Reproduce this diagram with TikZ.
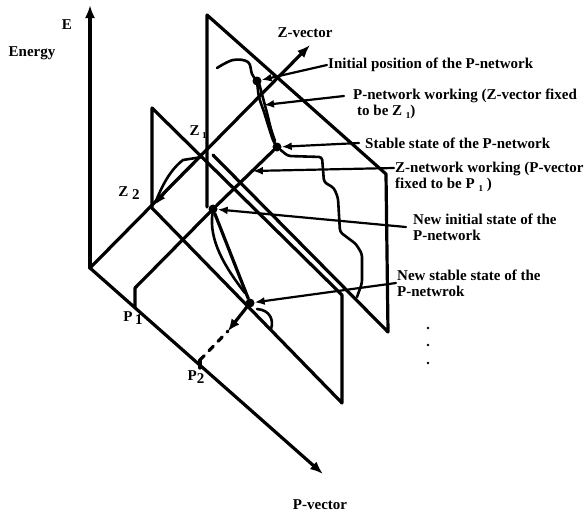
\documentclass[tikz,border=0pt]{standalone}
\usepackage{fontspec}
\setmainfont{Liberation Serif}
\usetikzlibrary{arrows.meta, calc, positioning}

\newcommand\lowidx[1]{\raisebox{-0.45ex}{#1}}

\tikzset{
  axis/.style={line width=3.2pt, -{Latex[length=13pt,width=10pt]}},
  edge/.style={line width=3.2pt},
  pointer/.style={line width=2.2pt, -{Latex[length=10pt,width=8pt]}},
  track/.style={line width=2.6pt},
  blob/.style={circle, fill, inner sep=0pt, minimum size=9pt},
  lbl/.style={font=\bfseries\fontsize{15}{16}\selectfont, inner sep=1pt, align=left},
}

\begin{document}
\begin{tikzpicture}[x=1pt, y=-1pt, line join=round, line cap=round]
  \useasboundingbox (0,0) rectangle (586,515);

  % axes
  \coordinate (O)    at (90,268);
  \coordinate (Etip) at (90,5);
  \coordinate (Ztip) at (310,45);
  \coordinate (Ptip) at (323,474);
  \draw [axis] (O) -- (Etip);
  \draw [axis] (O) -- (Ztip);
  \draw [axis] (O) -- (Ptip);

  % points on the axes
  \coordinate (Z1) at (202,157);
  \coordinate (Z2) at (152,208);
  \coordinate (P1) at (135,307);
  \coordinate (P2) at (200,368);

  % plane Z = Z2
  \coordinate (z2top) at (152,108);
  \coordinate (z2far) at (342,295);
  \coordinate (z2low) at (342,403);
  \draw [edge] (Z2) -- (z2top) -- (z2far) -- (z2low) -- cycle;

  % plane Z = Z1
  \coordinate (z1base) at (207,207);
  \coordinate (z1top)  at (207,15);
  \coordinate (z1far)  at (386,174);
  \coordinate (z1low)  at (388,332);
  \coordinate (z1near) at (213,155);
  \draw [edge] (z1base) -- (z1top) -- (z1far) -- (z1low) -- (z1near);

  % states
  \node [blob] (init)      at (257,81)  {};
  \node [blob] (stable)    at (277,147) {};
  \node [blob] (newinit)   at (213,209) {};
  \node [blob] (newstable) at (250,303) {};

  % line from P1 in the Z direction
  \coordinate (P1up) at (135,288);
  \draw [edge] (P1) -- (P1up) -- (newinit) -- (stable);

  % from the new initial state down to the new stable state
  \draw [edge] (newinit) -- (newstable);
  \draw [track] (newinit) .. controls (209,240) and (224,266) .. (245,293);
  \draw [track] (257,309) .. controls (270,310) and (274,320) .. (271,329);

  % towards P2
  \coordinate (P2up)  at (200,360);
  \coordinate (P2arr) at (228,331);
  \draw [edge] (P2) -- (P2up);
  \draw [edge, dash pattern=on 6pt off 7pt] (P2up) -- (P2arr);
  \draw [edge, -{Latex[length=12pt,width=10pt]}] (newstable) -- (P2arr);

  % Z-network moving from Z1 to Z2
  \draw [track] (Z1) -- (183,160) .. controls (170,170) and (162,186) .. (156,201);
  \draw [track, -{Latex[length=10pt,width=8pt]}] (194,163) .. controls (180,177) and (168,188) .. (156,204);

  % P-network trajectory in the plane Z = Z1
  \draw [track] plot [smooth, tension=0.6] coordinates {(217,68) (233,60) (248,62) (252,74) (init)};
  \draw [track] plot [smooth] coordinates {(init) (259,97) (264,112) (269,128) (273,140) (stable)};
  \draw [track] plot [smooth] coordinates {(259,83) (263,98) (267,113) (271,129) (275,141)};
  \draw [track, rounded corners=3pt] (stable) -- (288,156) -- (322,157) -- (324,182)
    -- (334,188) -- (338,198) -- (340,232) -- (356,244) -- (362,254) -- (362,283) -- (357,297);
  \coordinate (pwork) at (264,105);
  \coordinate (zwork) at ($(P1up)!0.83!(stable)$);

  % labels
  \node [lbl] (lE)      at (67,25)   {E};
  \node [lbl] (lEnergy) at (32,53)   {Energy};
  \node [lbl] (lZvec)   at (305,33)  {Z-vector};
  \node [lbl] (lPvec)   at (320,505) {P-vector};
  \node [lbl] (lZ1)     at (198,132) {Z\,\lowidx{\small 1}};
  \node [lbl] (lZ2)     at (129,193) {Z \lowidx{2}};
  \node [lbl] (lP1)     at (133,318) {P\,\lowidx{1}};
  \node [lbl] (lP2)     at (196,377) {P\lowidx{2}};

  \node [lbl, anchor=west] (lInit)      at (327,65)  {Initial position of the P-network};
  \node [lbl, anchor=west] (lPwork)     at (352,104) {P-network working (Z-vector fixed\\\hspace{4pt}to be Z \lowidx{\small 1})};
  \node [lbl, anchor=west] (lStable)    at (364,143) {Stable state of the P-network};
  \node [lbl, anchor=west] (lZwork)     at (394,177) {Z-network working (P-vector\\fixed to be P \lowidx{\small 1} )};
  \node [lbl, anchor=west] (lNewInit)   at (412,227) {New initial state of the\\P-network};
  \node [lbl, anchor=west] (lNewStable) at (396,283) {New stable state of the\\P-netwrok};

  % pointers
  \draw [pointer] (lInit.west) -- (init);
  \draw [pointer] ([xshift=-8pt, yshift=8pt]lPwork.west) -- (pwork);
  \draw [pointer] ([xshift=-5pt]lStable.west) -- (stable);
  \draw [pointer] ([yshift=9pt]lZwork.west) -- (zwork);
  \draw [pointer] ([xshift=-6pt]lNewInit.west) -- (newinit);
  \draw [pointer] (lNewStable.west) -- (newstable);

  % more steps follow
  \foreach \y in {328,345,363}
    \fill (428,\y) circle (1.3);
\end{tikzpicture}
\end{document}
